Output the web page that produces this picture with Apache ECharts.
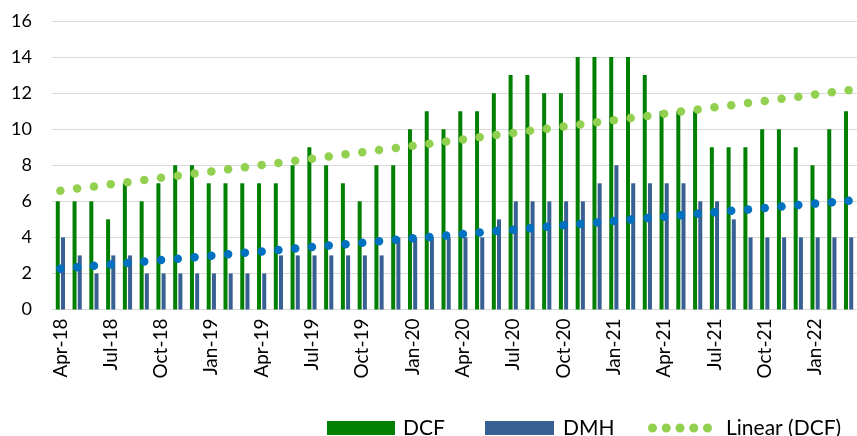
<!DOCTYPE html>
<html>
<head>
<meta charset="utf-8">
<script src="https://cdn.jsdelivr.net/npm/echarts@6/dist/echarts.min.js"></script>
<style>
  html, body { margin: 0; padding: 0; background: #fff; }
  #chart { width: 857px; height: 436px; }
</style>
</head>
<body>
<div id="chart"></div>
<script>
// monthly categories, Apr-18 .. Mar-22
const months = [
  'Apr-18', 'May-18', 'Jun-18', 'Jul-18', 'Aug-18', 'Sep-18', 'Oct-18', 'Nov-18', 'Dec-18', 'Jan-19', 'Feb-19', 'Mar-19',
  'Apr-19', 'May-19', 'Jun-19', 'Jul-19', 'Aug-19', 'Sep-19', 'Oct-19', 'Nov-19', 'Dec-19', 'Jan-20', 'Feb-20', 'Mar-20',
  'Apr-20', 'May-20', 'Jun-20', 'Jul-20', 'Aug-20', 'Sep-20', 'Oct-20', 'Nov-20', 'Dec-20', 'Jan-21', 'Feb-21', 'Mar-21',
  'Apr-21', 'May-21', 'Jun-21', 'Jul-21', 'Aug-21', 'Sep-21', 'Oct-21', 'Nov-21', 'Dec-21', 'Jan-22', 'Feb-22', 'Mar-22'
]

const dcf = [
  6, 6, 6, 5, 7, 6, 7, 8, 8, 7, 7, 7,
  7, 7, 8, 9, 8, 7, 6, 8, 8, 10, 11, 10,
  11, 11, 12, 13, 13, 12, 12, 14, 14, 14, 14, 13,
  11, 11, 11, 9, 9, 9, 10, 10, 9, 8, 10, 11
]

const dmh = [
  4, 3, 2, 3, 3, 2, 2, 2, 2, 2, 2, 2,
  2, 3, 3, 3, 3, 3, 3, 3, 4, 4, 4, 4,
  4, 4, 5, 6, 6, 6, 6, 6, 7, 8, 7, 7,
  7, 7, 6, 6, 5, 4, 4, 4, 4, 4, 4, 4
]

const yTicks = { min: 0, max: 16, interval: 2 }

// least squares trend, same as Excel's "Linear" trendline
function linearTrend(values) {
  const n = values.length
  const mx = (n - 1) / 2
  const my = values.reduce((a, b) => a + b, 0) / n
  let sxy = 0, sxx = 0
  values.forEach((v, i) => {
    sxy += (i - mx) * (v - my)
    sxx += (i - mx) * (i - mx)
  })
  const k = sxy / sxx
  return values.map((v, i) => +(my + k * (i - mx)).toFixed(3))
}

const fontFamily = 'Lato, "Open Sans", sans-serif'
const dotsIcon = 'path://' + [0, 1, 2, 3, 4].map(i => {
  const x = i * 13.75
  return 'M' + x + ',4.5a4.5,4.5 0 1,0 9,0a4.5,4.5 0 1,0 -9,0'
}).join(' ')

const chart = echarts.init(document.getElementById('chart'))

const legendText = { fontFamily: fontFamily, fontSize: 21, color: '#000', lineHeight: 22 }

chart.setOption({
  animation: false,
  grid: { left: 52, top: 21, width: 806, height: 288.5 },
  legend: [
    {
      data: ['DCF'], left: 327, top: 417, padding: 0, icon: 'rect', itemWidth: 68, itemHeight: 14,
      selectedMode: false, textStyle: Object.assign({ padding: [0, 0, 0, 3] }, legendText)
    },
    {
      data: ['DMH'], left: 485, top: 417, padding: 0, icon: 'rect', itemWidth: 69, itemHeight: 14,
      selectedMode: false, textStyle: Object.assign({ padding: [0, 0, 0, 4] }, legendText)
    },
    {
      data: [{ name: 'Linear (DCF)', icon: dotsIcon, itemStyle: { color: '#92D050' } }],
      left: 648, top: 417, padding: 0, itemWidth: 64, itemHeight: 9,
      selectedMode: false, textStyle: Object.assign({ padding: [0, 0, 0, 9] }, legendText)
    }
  ],
  xAxis: {
    type: 'category',
    data: months,
    boundaryGap: true,
    axisLine: { lineStyle: { color: '#d9d9d9', width: 1 } },
    axisTick: { interval: 2, length: 6, lineStyle: { color: '#d9d9d9' } },
    axisLabel: {
      interval: 2, rotate: 90, margin: 9,
      fontFamily: fontFamily, fontSize: 19, color: '#000'
    },
    splitLine: { show: false }
  },
  yAxis: {
    type: 'value',
    min: yTicks.min, max: yTicks.max, interval: yTicks.interval,
    axisLine: { show: false },
    axisTick: { show: false },
    axisLabel: { margin: 20, fontFamily: fontFamily, fontSize: 18, color: '#000' },
    splitLine: { lineStyle: { color: '#d9d9d9', width: 1 } }
  },
  series: [
    {
      name: 'DCF', type: 'bar', data: dcf,
      barWidth: 4, barGap: '30%',
      itemStyle: { color: '#008000' }
    },
    {
      name: 'DMH', type: 'bar', data: dmh,
      barWidth: 4,
      itemStyle: { color: '#386092' }
    },
    {
      name: 'Linear (DCF)', type: 'line', data: linearTrend(dcf),
      symbol: 'circle', symbolSize: 8.5, showSymbol: true,
      lineStyle: { width: 0, opacity: 0 },
      itemStyle: { color: '#92D050' },
      z: 5
    },
    {
      name: 'Linear (DMH)', type: 'line', data: linearTrend(dmh),
      symbol: 'circle', symbolSize: 8.5, showSymbol: true,
      lineStyle: { width: 0, opacity: 0 },
      itemStyle: { color: '#0070C0' },
      z: 5
    }
  ]
})
</script>
</body>
</html>
